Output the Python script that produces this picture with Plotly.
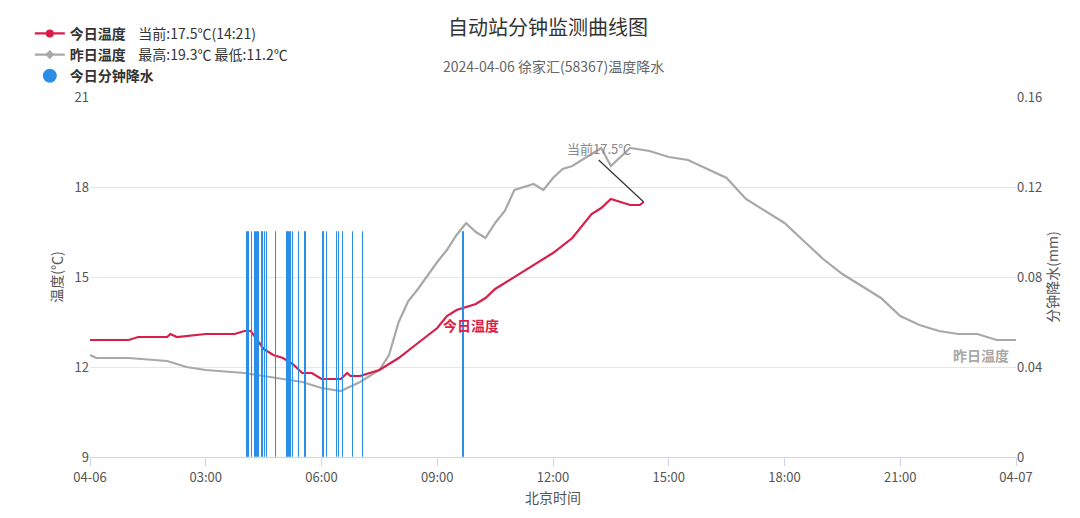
import plotly.graph_objects as go
import pandas as pd

day = "2024-04-06"
today_t = ["00:00","01:00","01:15","02:00","02:05","02:15","03:00","03:45","04:00","04:10","04:20","04:30","04:45","05:00","05:15","05:30","05:45","06:00","06:15","06:30","06:40","06:45","07:00","07:15","07:30","07:45","08:00","08:30","09:00","09:15","09:30","10:00","10:15","10:30","11:00","11:30","12:00","12:30","12:45","13:00","13:15","13:30","13:45","14:00","14:15","14:21"]
today_v = [12.9,12.9,13.0,13.0,13.1,13.0,13.1,13.1,13.2,13.2,12.9,12.6,12.4,12.3,12.1,11.8,11.8,11.6,11.6,11.6,11.8,11.7,11.7,11.8,11.9,12.1,12.3,12.8,13.3,13.7,13.9,14.1,14.3,14.6,15.0,15.4,15.8,16.3,16.7,17.1,17.3,17.6,17.5,17.4,17.4,17.5]
yest_t = ["00:00","00:10","01:00","02:00","02:30","03:00","04:00","04:30","05:00","05:30","06:00","06:30","07:00","07:15","07:30","07:45","08:00","08:15","08:30","09:00","09:15","09:30","09:45","10:00","10:15","10:30","10:45","11:00","11:30","11:45","12:00","12:15","12:30","13:00","13:15","13:30","13:45","14:00","14:30","15:00","15:30","16:00","16:30","17:00","17:30","18:00","18:30","19:00","19:30","20:00","20:30","21:00","21:30","22:00","22:30","23:00","23:30","24:00"]
yest_v = [12.4,12.3,12.3,12.2,12.0,11.9,11.8,11.7,11.6,11.5,11.3,11.2,11.5,11.7,11.9,12.4,13.5,14.2,14.6,15.5,15.9,16.4,16.8,16.5,16.3,16.8,17.2,17.9,18.1,17.9,18.3,18.6,18.7,19.1,19.3,18.7,19.0,19.3,19.2,19.0,18.9,18.6,18.3,17.6,17.2,16.8,16.2,15.6,15.1,14.7,14.3,13.7,13.4,13.2,13.1,13.1,12.9,12.9]
rain_t = ["04:05","04:07","04:12","04:17","04:18","04:20","04:21","04:23","04:28","04:32","04:35","04:49","05:07","05:09","05:12","05:16","05:25","05:35","06:03","06:09","06:24","06:27","06:33","06:49","07:05","09:41"]
rain_v = [0.1]*len(rain_t)

def ts(t):
    return pd.Timestamp(f"{day} 00:00") + pd.Timedelta(hours=int(t[:2]), minutes=int(t[3:]))

tx = [ts(t) for t in today_t]
yx = [ts(t) for t in yest_t]
rx = [ts(t) for t in rain_t]

RED = "#d81e4a"; GRAY = "#a8a8a8"; BLUE = "#2b8fe8"
fig = go.Figure()
fig.add_trace(go.Bar(x=rx, y=rain_v, yaxis="y2", width=30000, marker=dict(color=BLUE, line=dict(width=1, color=BLUE)), showlegend=False))
fig.add_trace(go.Scatter(x=yx, y=yest_v, mode="lines", line=dict(color=GRAY, width=2.2), showlegend=False))
fig.add_trace(go.Scatter(x=tx, y=today_v, mode="lines", line=dict(color=RED, width=2.2), showlegend=False))
fig.add_trace(go.Scatter(x=[None], y=[None], mode="lines+markers", line=dict(color=RED, width=2.2),
                         marker=dict(color=RED, size=8), name="<b>今日温度</b>    当前:17.5℃(14:21)"))
fig.add_trace(go.Scatter(x=[None], y=[None], mode="lines+markers", line=dict(color=GRAY, width=2.2),
                         marker=dict(color=GRAY, size=7, symbol="diamond"), name="<b>昨日温度</b>    最高:19.3℃ 最低:11.2℃"))
fig.add_trace(go.Scatter(x=[None], y=[None], mode="markers", marker=dict(color=BLUE, size=14, symbol="circle"),
                         name="<b>今日分钟降水</b>"))

font = "Noto Sans CJK SC"
ticks = [pd.Timestamp(f"{day} 00:00") + pd.Timedelta(hours=h) for h in range(0, 25, 3)]
labels = ["04-06","03:00","06:00","09:00","12:00","15:00","18:00","21:00","04-07"]
fig.update_layout(
    width=1080, height=518, margin=dict(l=82, r=72, t=89, b=69, autoexpand=False),
    plot_bgcolor="white", paper_bgcolor="white",
    font=dict(family=font, size=13, color="#555"),
    bargap=0,
    title=dict(text="自动站分钟监测曲线图", x=0.5, y=0.975, xanchor="center", font=dict(size=20, color="#333")),
    legend=dict(x=-0.065, y=1.22, xanchor="left", yanchor="top", traceorder="normal",
                font=dict(size=14, color="#333"), bgcolor="rgba(0,0,0,0)", itemwidth=30, tracegroupgap=0),
    xaxis=dict(range=[ticks[0], ticks[-1]], tickvals=ticks, ticktext=labels, showgrid=False, automargin=False,
               showline=True, linecolor="#ccd6eb", ticks="outside", tickcolor="#ccd6eb", ticklen=8,
               title=dict(text="北京时间", font=dict(size=14, color="#555"), standoff=8)),
    yaxis=dict(range=[9, 21], tickvals=[9,12,15,18,21], gridcolor="#e6e6e6", zeroline=False, automargin=False,
               title=dict(text="温度(℃)", font=dict(size=14, color="#555"), standoff=8)),
    yaxis2=dict(range=[0, 0.16], tickvals=[0,0.04,0.08,0.12,0.16], ticktext=["0","0.04","0.08","0.12","0.16"],
                overlaying="y", side="right", showgrid=False, zeroline=False, automargin=False,
                title=dict(text="分钟降水(mm)", font=dict(size=14, color="#555"), standoff=4)),
    annotations=[
        dict(text="2024-04-06 徐家汇(58367)温度降水", x=0.5, y=1.12, xref="paper", yref="paper",
             showarrow=False, font=dict(size=14, color="#666")),
        dict(text="<b>今日温度</b>", x=ts("09:52"), y=13.4, showarrow=False, font=dict(size=14, color=RED)),
        dict(text="<b>昨日温度</b>", x=ts("23:05"), y=12.4, showarrow=False, font=dict(size=14, color=GRAY)),
        dict(text="当前17.5℃", x=tx[-1], y=today_v[-1], ax=-45, ay=-42, showarrow=True, arrowhead=0,
             arrowcolor="#333", arrowwidth=1.2, font=dict(size=13, color="#888"), yanchor="bottom"),
    ],
)
fig.write_html("out.html")
